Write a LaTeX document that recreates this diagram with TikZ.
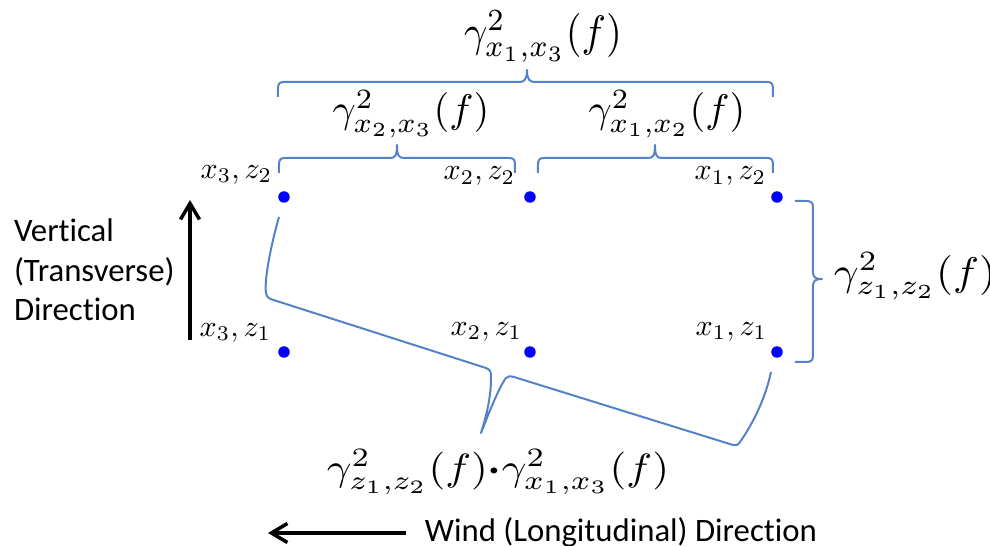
\documentclass[tikz,border=0pt]{standalone}
\usepackage{fontspec}
\usepackage{amsmath}
\usepackage{graphicx}
\newfontfamily\calibri[Ligatures=NoCommon]{Carlito}
\usetikzlibrary{arrows.meta}
\definecolor{bracecol}{RGB}{84,130,200}
\newcommand{\ptmath}[1]{\scalebox{0.6}{$#1$}}
\begin{document}
\begin{tikzpicture}[x=0.2pt,y=-0.2pt,
  dotn/.style={circle,fill=blue,inner sep=0pt,minimum size=2.3pt},
  ptlbl/.style={inner sep=0pt,anchor=base east},
  biglbl/.style={inner sep=0pt,anchor=base},
  sanslbl/.style={inner sep=0pt,anchor=base west,font=\calibri\fontsize{6.55}{7.5}\selectfont},
  bracel/.style={draw=bracecol,line width=0.4pt,line join=round},
  dirarrow/.style={line width=0.7pt,-{Straight Barb[length=3.2pt,width=3.8pt,line width=0.7pt]}}]
\useasboundingbox (0,0) rectangle (990,546);
% points
\node[dotn] (p32) at (284,197) {};
\node[dotn] (p22) at (530,197) {};
\node[dotn] (p12) at (777,197) {};
\node[dotn] (p31) at (284,352) {};
\node[dotn] (p21) at (530,352) {};
\node[dotn] (p11) at (777,352) {};
% point labels
\node[ptlbl] (l32) at (273,178) {\ptmath{x_3, z_2}};
\node[ptlbl] (l22) at (516,180) {\ptmath{x_2, z_2}};
\node[ptlbl] (l12) at (767,180) {\ptmath{x_1, z_2}};
\node[ptlbl] (l31) at (272,336) {\ptmath{x_3, z_1}};
\node[ptlbl] (l21) at (523,335) {\ptmath{x_2, z_1}};
\node[ptlbl] (l11) at (768,335) {\ptmath{x_1, z_1}};
% braces
\draw[bracel] (278,97) -- (278,89) .. controls (278,83.5) and (279.5,82) .. (284,82) -- (519,82)
  .. controls (524,82) and (527,80) .. (527,70) .. controls (527,80) and (530,82) .. (535,82)
  -- (767,82) .. controls (771.5,82) and (773,83.5) .. (773,89) -- (773,97);
\draw[bracel] (279,173) -- (279,165) .. controls (279,159.5) and (280.5,158) .. (285,158) -- (390,158)
  .. controls (395,158) and (397,156) .. (397,145) .. controls (397,156) and (399,158) .. (404,158)
  -- (509,158) .. controls (513.5,158) and (515,159.5) .. (515,165) -- (515,173);
\draw[bracel] (538,173) -- (538,165) .. controls (538,159.5) and (539.5,158) .. (544,158) -- (648,158)
  .. controls (653,158) and (655,156) .. (655,145) .. controls (655,156) and (657,158) .. (662,158)
  -- (767,158) .. controls (771.5,158) and (773,159.5) .. (773,165) -- (773,173);
\draw[bracel] (795,201) -- (806,201) .. controls (811,201) and (813,202.5) .. (813,207) -- (813,272)
  .. controls (813,277) and (815,279) .. (822,279) .. controls (815,279) and (813,281) .. (813,286)
  -- (813,356) .. controls (813,360.5) and (811,362) .. (806,362) -- (795,362);
\draw[bracel] (279,217) .. controls (271,245) and (264,280) .. (266,293)
  .. controls (267,297) and (268,298) .. (272,299.5) -- (486,368)
  .. controls (491,370) and (491,372) .. (491,378) .. controls (491,400) and (485,420) .. (481,433)
  .. controls (488,415) and (500,385) .. (506,378) .. controls (508,376) and (510,376) .. (514,377)
  -- (733,445) .. controls (736,446) and (738,445) .. (740,442)
  .. controls (752,425) and (765,400) .. (771,372);
% brace labels
\node[biglbl] (g13) at (543,46) {\scalebox{0.816}[0.88]{$\gamma^2_{x_1,x_3}(f)$}};
\node[biglbl] (g23) at (411,123) {\scalebox{0.81}[0.8]{$\gamma^2_{x_2,x_3}(f)$}};
\node[biglbl] (g12) at (667,123) {\scalebox{0.81}[0.8]{$\gamma^2_{x_1,x_2}(f)$}};
\node[biglbl,anchor=base west] (gz) at (833,285) {\scalebox{0.87}[0.8]{$\gamma^2_{z_1,z_2}(f)$}};
\node[biglbl] (gp) at (498,480.5) {\scalebox{0.865}[0.76]{$\gamma^2_{z_1,z_2}(f)\mathord{\boldsymbol{\cdot}}\gamma^2_{x_1,x_3}(f)$}};
% direction texts and arrows
\node[sanslbl] (v1) at (13,242) {Vertical};
\node[sanslbl] (v2) at (13,281) {(Transverse)};
\node[sanslbl] (v3) at (13,320) {Direction};
\coordinate (va) at (190,340);
\coordinate (vb) at (190,200);
\draw[dirarrow] (va) -- (vb);
\node[sanslbl] (wd) at (424,541) {Wind (Longitudinal) Direction};
\coordinate (ha) at (406,533);
\coordinate (hb) at (268,533);
\draw[dirarrow] (ha) -- (hb);
\end{tikzpicture}
\end{document}
